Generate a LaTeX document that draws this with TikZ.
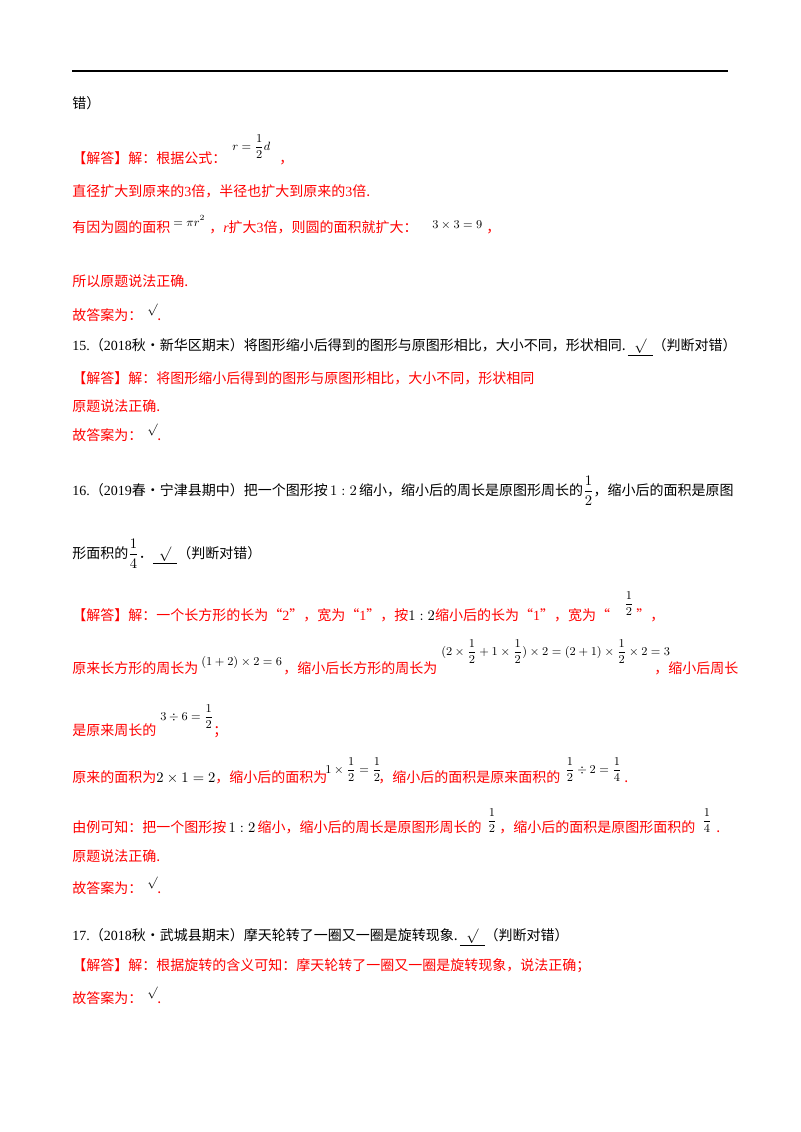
\documentclass[tikz,border=0pt]{standalone}
\usepackage{fontspec}
\setmainfont{Noto Sans CJK SC}
\newfontfamily\ser{Liberation Serif}
\newcommand{\fr}[2]{{\displaystyle\frac{#1}{#2}}}
\begin{document}
\begin{tikzpicture}[x=0.75pt,y=-0.75pt,
  t/.style={anchor=base west,inner sep=0pt,font=\fontsize{10.5}{12}\selectfont},
  r/.style={t,text=red},
  m/.style={anchor=base west,inner sep=0pt,font=\fontsize{9}{11}\selectfont}]
\useasboundingbox (0,0) rectangle (800,1132);
\coordinate (l1) at (72,71); \coordinate (l2) at (728,71);
\draw[line width=0.8pt] (l1) -- (l2);
\node[t] (a0) at (72,108) {错）};
\node[r] (a1) at (72,163) {【解答】解：根据公式：};
\node[m] (a1m) at (232,150) {$r=\fr{1}{2}d$};
\node[r] (a1c) at (279,163) {，};
\node[r] (a2) at (72,196) {直径扩大到原来的{\ser 3}倍，半径也扩大到原来的{\ser 3}倍.};
\node[r] (a3) at (72,232) {有因为圆的面积};
\node[m] (a3m) at (173,226) {$=\pi r^2$};
\node[r] (a3b) at (209,232) {，{\ser\itshape r}扩大{\ser 3}倍，则圆的面积就扩大：};
\node[m] (a3n) at (432,228) {$3\times3=9$};
\node[r] (a3c) at (486,232) {，};
\node[r] (a4) at (72,286) {所以原题说法正确.};
\node[r] (a5) at (72,320) {故答案为：};
\node[m] (a5m) at (147,313) {$\surd$};
\node[r] (a5c) at (157,320) {.};
\node[t] (b0) at (72,350) {{\ser 15.}（{\ser 2018}秋•新华区期末）将图形缩小后得到的图形与原图形相比，大小不同，形状相同.\,\underline{\ \ $\surd$\ \ }（判断对错）};
\node[r] (b1) at (72,383) {【解答】解：将图形缩小后得到的图形与原图形相比，大小不同，形状相同};
\node[r] (b2) at (72,411) {原题说法正确.};
\node[r] (b3) at (72,440) {故答案为：};
\node[m] (b3m) at (147,433) {$\surd$};
\node[r] (b3c) at (157,440) {.};
\node[t] (c0) at (72,495) {{\ser 16.}（{\ser 2019}春•宁津县期中）把一个图形按\,$1:2$\,缩小，缩小后的周长是原图形周长的$\fr12$，缩小后的面积是原图};
\node[t] (c1) at (72,558) {形面积的$\fr14$．\underline{\ \ $\surd$\ \ }（判断对错）};
\node[r] (c2) at (72,620) {【解答】解：一个长方形的长为“{\ser 2}”，宽为“{\ser 1}”，按\textcolor{black}{$1:2$}缩小后的长为“{\ser 1}”，宽为“};
\node[m] (c2m) at (624,607) {$\fr12$};
\node[r] (c2c) at (636,620) {”，};
\node[r] (c3) at (72,673) {原来长方形的周长为};
\node[m] (c3m) at (201,665) {$(1+2)\times2=6$};
\node[r] (c3b) at (283,673) {，缩小后长方形的周长为};
\node[m] (c3n) at (441,655) {$(2\times\fr12+1\times\fr12)\times2=(2+1)\times\fr12\times2=3$};
\node[r] (c3c) at (654,673) {，缩小后周长};
\node[r] (c4) at (72,735) {是原来周长的};
\node[m] (c4m) at (160,720) {$3\div6=\fr12$};
\node[r] (c4c) at (213,735) {；};
\node[r] (c5) at (72,782) {原来的面积为\textcolor{black}{$2\times1=2$}，缩小后的面积为};
\node[m] (c5m) at (325,773) {$1\times\fr12=\fr12$};
\node[r] (c5b) at (378,782) {，缩小后的面积是原来面积的};
\node[m] (c5n) at (565,773) {$\fr12\div2=\fr14$};
\node[r] (c5c) at (624,782) {.};
\node[r] (c6) at (72,832) {由例可知：把一个图形按\,\textcolor{black}{$1:2$}\,缩小，缩小后的周长是原图形周长的};
\node[m] (c6m) at (487,824) {$\fr12$};
\node[r] (c6b) at (499,832) {，缩小后的面积是原图形面积的};
\node[m] (c6n) at (702,824) {$\fr14$};
\node[r] (c6c) at (716,832) {.};
\node[r] (c7) at (72,861) {原题说法正确.};
\node[r] (c8) at (72,893) {故答案为：};
\node[m] (c8m) at (147,886) {$\surd$};
\node[r] (c8c) at (157,893) {.};
\node[t] (d0) at (72,940) {{\ser 17.}（{\ser 2018}秋•武城县期末）摩天轮转了一圈又一圈是旋转现象.\,\underline{\ \ $\surd$\ \ }（判断对错）};
\node[r] (d1) at (72,970) {【解答】解：根据旋转的含义可知：摩天轮转了一圈又一圈是旋转现象，说法正确；};
\node[r] (d2) at (72,1003) {故答案为：};
\node[m] (d2m) at (147,996) {$\surd$};
\node[r] (d2c) at (157,1003) {.};
\end{tikzpicture}
\end{document}
